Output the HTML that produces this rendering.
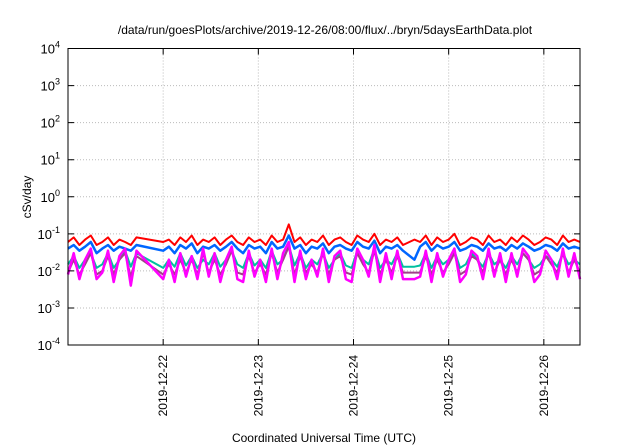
<!DOCTYPE html>
<html><head><meta charset="utf-8"><style>
body{margin:0;background:#fff}
svg{display:block;font-family:"Liberation Sans",sans-serif}
</style></head><body>
<svg id="c" width="640" height="448" viewBox="0 0 640 448">
<text x="325" y="34" font-size="12" text-anchor="middle">/data/run/goesPlots/archive/2019-12-26/08:00/flux/../bryn/5daysEarthData.plot</text>
<text x="324" y="442" font-size="12" text-anchor="middle">Coordinated Universal Time (UTC)</text>
<text transform="translate(31,197) rotate(-90)" font-size="12" text-anchor="middle">cSv/day</text>
<g id="grid"></g><g id="series"></g><g id="axes"></g>
</svg>
<script>
const yTicks=[-4,-3,-2,-1,0,1,2,3,4];
const xTickDays=[22,23,24,25,26];
const xTickLabels=["2019-12-22","2019-12-23","2019-12-24","2019-12-25","2019-12-26"];
const times=[21.00,21.06,21.12,21.18,21.24,21.30,21.36,21.42,21.48,21.54,21.60,21.66,21.72,
22.00,22.06,22.12,22.18,22.24,22.30,22.36,22.42,22.48,22.54,22.60,22.66,22.72,22.78,22.84,22.90,22.96,23.02,23.08,23.14,23.20,23.26,23.32,23.38,23.44,23.50,23.56,23.62,23.68,23.74,23.80,23.86,23.92,23.98,24.04,24.10,24.16,24.22,24.28,24.34,24.40,24.46,24.52,
24.64,24.70,24.76,24.82,24.88,24.94,25.00,25.06,25.12,25.18,25.24,25.30,25.36,25.42,25.48,25.54,25.60,25.66,25.72,25.78,25.84,25.90,25.96,26.02,26.08,26.14,26.20,26.26,26.32,26.38];
const redVals=[.06,.08,.05,.07,.09,.05,.06,.08,.05,.07,.06,.05,.08,
.06,.07,.05,.08,.06,.09,.05,.07,.06,.08,.05,.07,.09,.06,.05,.08,.06,.07,.05,.09,.06,.07,.18,.06,.08,.05,.07,.06,.09,.05,.07,.08,.06,.05,.09,.07,.06,.10,.05,.07,.06,.08,.05,
.07,.06,.09,.05,.08,.06,.07,.10,.05,.06,.08,.07,.05,.09,.06,.07,.05,.08,.06,.09,.07,.05,.06,.08,.07,.05,.09,.06,.07,.06];
const blueVals=[.04,.05,.035,.045,.06,.03,.04,.05,.035,.045,.04,.035,.05,
.035,.045,.03,.05,.04,.055,.03,.045,.04,.05,.035,.045,.06,.04,.03,.05,.04,.045,.03,.06,.04,.045,.09,.04,.05,.03,.045,.04,.055,.03,.045,.05,.04,.035,.06,.045,.04,.065,.03,.045,.04,.05,.035,
.02,.045,.06,.035,.05,.04,.045,.06,.035,.04,.05,.045,.035,.055,.04,.045,.035,.05,.04,.055,.045,.035,.04,.05,.045,.035,.055,.04,.045,.04];
const tealVals=[.015,.025,.012,.02,.03,.012,.015,.03,.012,.02,.035,.013,.03,
.012,.02,.013,.03,.014,.025,.012,.02,.015,.03,.013,.02,.035,.015,.012,.03,.014,.02,.012,.035,.015,.02,.05,.014,.03,.012,.02,.015,.03,.012,.02,.03,.014,.012,.035,.02,.015,.04,.012,.02,.015,.03,.013,
.013,.014,.03,.012,.025,.015,.02,.035,.012,.015,.03,.02,.013,.03,.015,.02,.012,.025,.015,.03,.02,.012,.015,.025,.02,.013,.03,.015,.02,.015];
const purpleVals=[.009,.02,.008,.015,.03,.008,.01,.025,.008,.02,.03,.007,.025,
.008,.015,.008,.02,.009,.02,.008,.03,.009,.02,.008,.015,.035,.009,.008,.025,.009,.015,.008,.03,.009,.02,.045,.008,.025,.009,.015,.009,.03,.008,.02,.025,.009,.008,.03,.015,.009,.035,.008,.02,.009,.025,.009,
.009,.009,.025,.008,.02,.009,.015,.03,.008,.01,.025,.02,.009,.03,.009,.02,.008,.02,.009,.03,.02,.008,.01,.025,.015,.009,.03,.009,.02,.009];
const magentaVals=[.008,.03,.006,.02,.04,.006,.009,.035,.005,.025,.04,.004,.035,
.006,.02,.005,.03,.007,.025,.006,.04,.007,.03,.005,.02,.045,.006,.005,.035,.007,.02,.005,.04,.006,.03,.06,.005,.035,.006,.02,.007,.04,.005,.025,.035,.006,.005,.04,.02,.007,.05,.005,.03,.006,.035,.006,
.006,.007,.035,.005,.03,.007,.02,.04,.005,.008,.035,.025,.006,.04,.007,.03,.005,.03,.007,.04,.025,.005,.008,.035,.02,.006,.04,.007,.03,.006];

const L=68,R=580,T=48.5,B=345,X0=21.0,X1=26.38,Y0=-4,Y1=4;
const sx=d=>L+(d-X0)/(X1-X0)*(R-L);
const sy=v=>B-(Math.log10(v)-Y0)/(Y1-Y0)*(B-T);
const sl=e=>B-(e-Y0)/(Y1-Y0)*(B-T);
const NS="http://www.w3.org/2000/svg";
function mk(tag,parent,attrs){const e=document.createElementNS(NS,tag);for(const k in attrs)e.setAttribute(k,attrs[k]);parent.appendChild(e);return e;}
const grid=document.getElementById('grid'),axes=document.getElementById('axes'),ser=document.getElementById('series');
yTicks.forEach(t=>{const y=sl(t);
 if(t>Y0&&t<Y1){const g=mk('line',grid,{x1:L,x2:R,y1:y,y2:y,stroke:'#bbb','stroke-dasharray':'1,2','stroke-width':1});
 }
 const tk=mk('path',axes,{d:`M${L},${y}h6M${R},${y}h-6`,stroke:'#000'});
 
 const tx=mk('text',axes,{x:60,y:y+5,'font-size':13,'text-anchor':'end'});
 
 tx.textContent='10';const s=mk('tspan',tx,{dy:-6,'font-size':9});s.textContent=String(t);
});
xTickDays.forEach((d,i)=>{const x=sx(d);
 const g=mk('line',grid,{x1:x,x2:x,y1:T,y2:B,stroke:'#bbb','stroke-dasharray':'1,2','stroke-width':1});
 
 const tk=mk('path',axes,{d:`M${x},${B}v-6M${x},${T}v6`,stroke:'#000'});
 
 const tx=mk('text',axes,{transform:`translate(${x+4},355) rotate(-90)`,'font-size':12,'text-anchor':'end'});
 
 tx.textContent=xTickLabels[i];
});
const fr=mk('rect',axes,{x:L,y:T,width:R-L,height:B-T,fill:'none',stroke:'#000','stroke-width':1});

function line(vals,color,w,name){
 const n=Math.min(vals.length,times.length);let d='';
 for(let i=0;i<n;i++)d+=(i?'L':'M')+sx(times[i]).toFixed(1)+','+sy(vals[i]).toFixed(1);
 const p=mk('path',ser,{d:d,fill:'none',stroke:color,'stroke-width':w,'stroke-linejoin':'round'});
 
}
line(redVals,'#ff0000',2,'red-series');
line(tealVals,'#00c0a0',2,'teal-series');
line(purpleVals,'#a0408a',2,'purple-series');
line(blueVals,'#0066ff',2.5,'blue-series');
line(magentaVals,'#ff00ff',2.5,'magenta-series');
</script>
</body></html>
